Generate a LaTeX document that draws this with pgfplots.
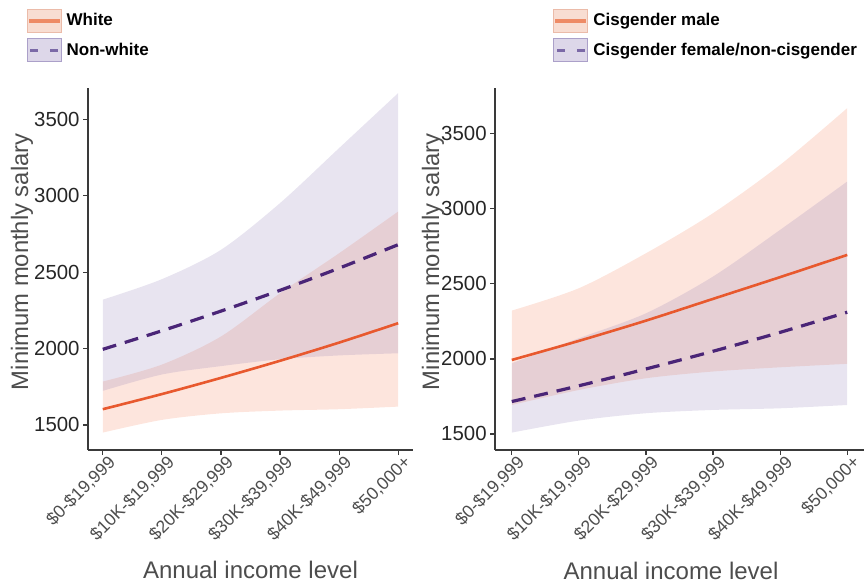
\documentclass[border=0pt]{standalone}
\usepackage{fontspec}
\setmainfont{Liberation Sans}
\usepackage{pgfplots}
\pgfplotsset{compat=1.18}
\usepackage{pgfplotstable}
\usepgfplotslibrary{fillbetween}

\definecolor{peachbase}{HTML}{F57D55}
\definecolor{lavbase}{HTML}{8C78B4}
\definecolor{orangeline}{HTML}{E8592E}
\definecolor{purpleline}{HTML}{4A2577}
\definecolor{peachkey}{HTML}{F8DDD2}
\definecolor{peachkeyedge}{HTML}{EBBBA9}
\definecolor{lavkey}{HTML}{DDD7E9}
\definecolor{lavkeyedge}{HTML}{ABA0C9}
\definecolor{orangekey}{HTML}{EE8B66}
\definecolor{purplekey}{HTML}{7B69A7}
\definecolor{axisgray}{HTML}{3A3A3A}
\definecolor{labelgray}{HTML}{4D4D4D}

% Left panel: race
\pgfplotstableread{
x  wm    wu    wl    nm    nu    nl
0  1603  1784  1450  1995  2320  1723
1  1702  1895  1533  2116  2454  1830
2  1808  2079  1576  2245  2646  1885
3  1920  2362  1594  2381  2952  1930
4  2039  2624  1603  2526  3312  1955
5  2166  2897  1620  2680  3672  1969
}\racetable

% Right panel: gender
\pgfplotstableread{
x  mm    mu    ml    fm    fu    fl
0  1993  2322  1693  1716  1971  1509
1  2120  2471  1793  1821  2138  1589
2  2255  2704  1871  1933  2304  1638
3  2400  2971  1916  2051  2549  1660
4  2545  3293  1944  2177  2860  1671
5  2693  3671  1967  2311  3182  1693
}\gendertable

\pgfplotsset{
  panel/.style={
    scale only axis,
    height=181pt,
    xmin=-0.25, xmax=5.25,
    axis x line*=bottom, axis y line*=left,
    axis line style={axisgray, line width=0.6pt},
    tick style={axisgray, line width=0.6pt},
    tick align=outside,
    major tick length=2.5pt,
    xtick={0,1,2,3,4,5},
    xticklabels={\$0-\$19{,}999,\$10K-\$19{,}999,\$20K-\$29{,}999,\$30K-\$39{,}999,\$40K-\$49{,}999,\$50{,}000+},
    x tick label style={rotate=45, anchor=north east, font=\fontsize{8.8}{10}\selectfont, text=labelgray, inner sep=1pt, xshift=3pt},
    ytick={1500,2000,2500,3000,3500},
    y tick label style={font=\fontsize{10.2}{12}\selectfont, text=black!85, inner sep=1.5pt},
    /pgf/number format/assume math mode=true,
    /pgf/number format/set thousands separator={},
    ylabel={Minimum monthly salary},
    xlabel={Annual income level},
    ylabel style={font=\fontsize{11.9}{14}\selectfont, text=labelgray},
    xlabel style={font=\fontsize{12}{14}\selectfont, text=labelgray},
    legend cell align=left,
    legend style={draw=none, fill=none, inner sep=0pt, anchor=north west,
      font=\bfseries\fontsize{8.5}{10}\selectfont, row sep=2pt,
      nodes={inner sep=2.5pt}},
    clip=false,
  },
  whitekey/.style={legend image code/.code={
    \draw[fill=peachkey, draw=peachkeyedge, line width=0.5pt] (0pt,-5.75pt) rectangle (17pt,5.75pt);
    \draw[orangekey, line width=1.6pt] (0.8pt,0pt) -- (16.2pt,0pt);}},
  nonwhitekey/.style={legend image code/.code={
    \draw[fill=lavkey, draw=lavkeyedge, line width=0.5pt] (0pt,-5.75pt) rectangle (17pt,5.75pt);
    \draw[purplekey, line width=1.6pt] (1.5pt,0pt) -- (5.5pt,0pt);
    \draw[purplekey, line width=1.6pt] (11.5pt,0pt) -- (15.5pt,0pt);}},
}

\begin{document}
\begin{tikzpicture}
% ---------------- Left panel ----------------
\begin{axis}[panel,
  at={(44pt,-225pt)}, anchor=south west,
  width=162.5pt,
  ymin=1336, ymax=3705,
  ylabel style={at={(axis description cs:-0.203,0.52)}, anchor=center},
  xlabel style={at={(axis description cs:0.5,-0.331)}, anchor=center},
  legend style={at={(axis description cs:-0.19,1.221)}},
]
\addplot[name path=nu, draw=none, smooth, forget plot] table[x=x,y=nu]{\racetable};
\addplot[name path=nl, draw=none, smooth, forget plot] table[x=x,y=nl]{\racetable};
\addplot[name path=wu, draw=none, smooth, forget plot] table[x=x,y=wu]{\racetable};
\addplot[name path=wl, draw=none, smooth, forget plot] table[x=x,y=wl]{\racetable};
\addplot[fill=peachbase, fill opacity=0.2, draw=none, forget plot] fill between[of=wu and wl];
\addplot[fill=lavbase, fill opacity=0.2, draw=none, forget plot] fill between[of=nu and nl];
\addplot[orangeline, line width=1.3pt, smooth, forget plot] table[x=x,y=wm]{\racetable};
\addplot[purpleline, line width=1.6pt, smooth, dash pattern=on 7pt off 4.5pt, forget plot] table[x=x,y=nm]{\racetable};
\addlegendimage{whitekey}
\addlegendentry{White}
\addlegendimage{nonwhitekey}
\addlegendentry{Non-white}
\end{axis}

% ---------------- Right panel ----------------
\begin{axis}[panel,
  at={(247.5pt,-225pt)}, anchor=south west,
  width=184.5pt,
  ymin=1393, ymax=3805,
  ylabel style={at={(axis description cs:-0.168,0.52)}, anchor=center},
  xlabel style={at={(axis description cs:0.477,-0.334)}, anchor=center},
  legend style={at={(axis description cs:0.157,1.221)}},
]
\addplot[name path=fu, draw=none, smooth, forget plot] table[x=x,y=fu]{\gendertable};
\addplot[name path=fl, draw=none, smooth, forget plot] table[x=x,y=fl]{\gendertable};
\addplot[name path=mu, draw=none, smooth, forget plot] table[x=x,y=mu]{\gendertable};
\addplot[name path=ml, draw=none, smooth, forget plot] table[x=x,y=ml]{\gendertable};
\addplot[fill=peachbase, fill opacity=0.2, draw=none, forget plot] fill between[of=mu and ml];
\addplot[fill=lavbase, fill opacity=0.2, draw=none, forget plot] fill between[of=fu and fl];
\addplot[orangeline, line width=1.3pt, smooth, forget plot] table[x=x,y=mm]{\gendertable};
\addplot[purpleline, line width=1.6pt, smooth, dash pattern=on 7pt off 4.5pt, forget plot] table[x=x,y=fm]{\gendertable};
\addlegendimage{whitekey}
\addlegendentry{Cisgender male}
\addlegendimage{nonwhitekey}
\addlegendentry{Cisgender female/non-cisgender}
\end{axis}
\useasboundingbox (0pt,0pt) rectangle (433pt,-292pt);
\end{tikzpicture}
\end{document}
